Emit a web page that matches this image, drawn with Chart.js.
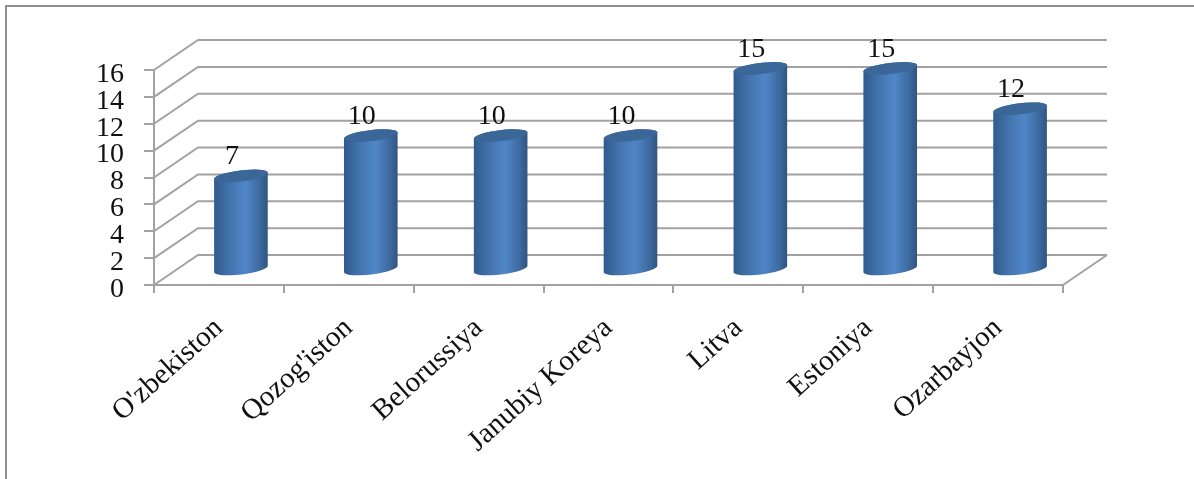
<!DOCTYPE html>
<html>
<head>
<meta charset="utf-8">
<style>
  html, body { margin: 0; padding: 0; background: #fff; overflow: hidden; }
  canvas { display: block; }
</style>
<script src="https://cdn.jsdelivr.net/npm/chart.js@4"></script>
</head>
<body>
<canvas id="chart" width="1194" height="479"></canvas>
<script>
const categories = ["O'zbekiston", "Qozog'iston", "Belorussiya", "Janubiy Koreya", "Litva", "Estoniya", "Ozarbayjon"];
const values = [7, 10, 10, 10, 15, 15, 12];
const axisMax = 16;
const axisStep = 2;

const lineColor = '#a2a2a2';
const textColor = '#111';
const fontFamily = '"Liberation Serif", serif';

// depth of the fake 3d box, in pixels
const depthX = 44;
const depthY = -30;

// cylinder drawn in place of the flat bar, sits halfway into the box
Chart.BarElement.prototype.draw = function (ctx) {
    const { x, y, base, width } = this.getProps(['x', 'y', 'base', 'width']);
    const cx = x + depthX / 2;
    const top = y + depthY / 2;
    const bottom = base + depthY / 2;
    const rx = width / 2;
    const ry = 5.5;
    const tilt = -0.12;

    const grad = ctx.createLinearGradient(cx - rx, 0, cx + rx, 0);
    grad.addColorStop(0, '#2f5a8c');
    grad.addColorStop(0.3, '#4474ae');
    grad.addColorStop(0.58, '#5086c8');
    grad.addColorStop(0.85, '#3d6a9f');
    grad.addColorStop(1, '#2f5480');

    ctx.save();
    ctx.beginPath();
    ctx.ellipse(cx, bottom, rx, ry, tilt, 0, Math.PI);
    ctx.ellipse(cx, top, rx, ry, tilt, Math.PI, 0);
    ctx.closePath();
    ctx.fillStyle = grad;
    ctx.fill();

    ctx.beginPath();
    ctx.ellipse(cx, top, rx, ry, tilt, 0, Math.PI * 2);
    ctx.fillStyle = '#3a6698';
    ctx.fill();
    ctx.restore();
};

// outer frame, back wall and the slanted lines
const boxPlugin = {
    id: 'box',
    beforeDatasetsDraw(chart) {
        const { ctx, chartArea, scales } = chart;
        ctx.save();
        ctx.strokeStyle = '#8f8f8f';
        ctx.lineWidth = 2;
        ctx.beginPath();
        ctx.moveTo(6, 479);
        ctx.lineTo(6, 6);
        ctx.lineTo(1194, 6);
        ctx.stroke();

        ctx.strokeStyle = lineColor;
        ctx.beginPath();
        scales.y.ticks.forEach(t => {
            const py = scales.y.getPixelForValue(t.value);
            ctx.moveTo(chartArea.left, py);
            ctx.lineTo(chartArea.left + depthX, py + depthY);
            ctx.lineTo(chartArea.right + depthX, py + depthY);
        });
        ctx.moveTo(chartArea.right, chartArea.bottom);
        ctx.lineTo(chartArea.right + depthX, chartArea.bottom + depthY);
        ctx.stroke();
        ctx.restore();
    },
    afterDatasetsDraw(chart) {
        const { ctx } = chart;
        const meta = chart.getDatasetMeta(0);
        ctx.save();
        ctx.font = '28px ' + fontFamily;
        ctx.fillStyle = textColor;
        ctx.textAlign = 'center';
        ctx.textBaseline = 'middle';
        meta.data.forEach((bar, i) => {
            ctx.fillText(values[i], bar.x + depthX / 2 - 9, bar.y + depthY / 2 - 19);
        });
        ctx.restore();
    }
};

new Chart(document.getElementById('chart'), {
    type: 'bar',
    data: {
        labels: categories,
        datasets: [{
            data: values,
            backgroundColor: '#4f81bd',
            barThickness: 54,
            clip: false
        }]
    },
    plugins: [boxPlugin],
    options: {
        responsive: false,
        animation: false,
        layout: { padding: { top: 70, right: 131, left: 0, bottom: 0 } },
        plugins: { legend: { display: false }, tooltip: { enabled: false } },
        scales: {
            x: {
                afterFit(scale) { scale.height = 194; },
                grid: { offset: true, drawOnChartArea: false, color: lineColor, lineWidth: 2, tickLength: 8 },
                border: { color: lineColor, width: 2 },
                ticks: {
                    color: textColor,
                    font: { family: fontFamily, size: 29 },
                    minRotation: 42,
                    maxRotation: 42,
                    padding: 18
                }
            },
            y: {
                min: 0,
                max: axisMax,
                afterFit(scale) { scale.width = 154; },
                grid: { drawOnChartArea: false, color: lineColor, lineWidth: 2, tickLength: 10 },
                border: { color: lineColor, width: 2 },
                ticks: {
                    stepSize: axisStep,
                    autoSkip: false,
                    color: textColor,
                    // empty first line pushes the number down a little, as in the original
                    callback: v => ['', String(v)],
                    font: { family: fontFamily, size: 28, lineHeight: '9px' },
                    padding: 20
                }
            }
        }
    }
});
</script>
</body>
</html>
